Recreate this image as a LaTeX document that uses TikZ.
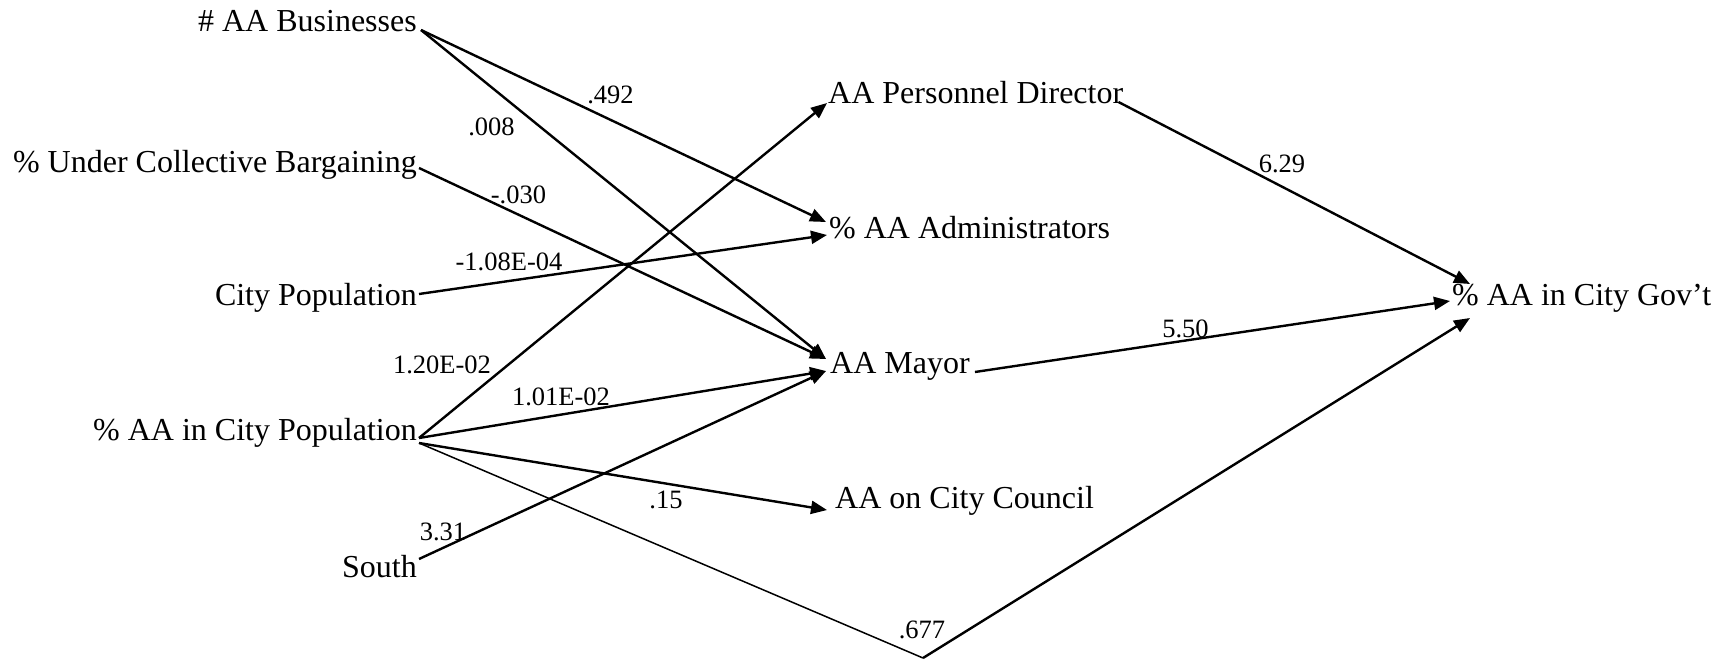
\documentclass[tikz,border=0pt]{standalone}
\usepackage{fontspec}
\setmainfont{Liberation Serif}
\usetikzlibrary{arrows.meta,calc}
\begin{document}
\begin{tikzpicture}[x=1pt,y=-1pt,
  var/.style={inner sep=0pt, font=\fontsize{32}{36}\selectfont},
  lab/.style={inner sep=0pt, anchor=base, font=\fontsize{26.5}{30}\selectfont},
  path/.style={line width=2.4pt, line join=miter, -{Triangle[length=16pt,width=13pt]}},
  thinpath/.style={line width=1.5pt}]
\useasboundingbox (0,0) rectangle (1728,661);

% exogenous variables
\node[var, anchor=base east] (bus)   at (417,32)  {\# AA Businesses};
\node[var, anchor=base east] (cb)    at (417,172) {\% Under Collective Bargaining};
\node[var, anchor=base east] (pop)   at (417,305) {City Population};
\node[var, anchor=base east] (aap)   at (417,440) {\% AA in City Population};
\node[var, anchor=base east] (south) at (417,577) {South};
% intermediate variables
\node[var, anchor=base west] (pd)  at (828,103) {AA Personnel Director};
\node[var, anchor=base west] (adm) at (829,238) {\% AA Administrators};
\node[var, anchor=base west] (may) at (830,373) {AA Mayor};
\node[var, anchor=base west] (cc)  at (835,508) {AA on City Council};
% outcome
\node[var, anchor=base west] (gov) at (1452,305) {\% AA in City Gov’t};

% ports
\coordinate (busO)   at ($(bus.base east)+(4,-2)$);
\coordinate (cbO)    at ($(cb.base east)+(2,-4)$);
\coordinate (popO)   at ($(pop.base east)+(2,-11)$);
\coordinate (aapO1)  at ($(aap.base east)+(2,-2)$);
\coordinate (aapO2)  at ($(aap.base east)+(2,3)$);
\coordinate (southO) at ($(south.base east)+(2,-18)$);
\coordinate (pdI)    at ($(pd.base west)+(-1,0)$);
\coordinate (pdO)    at ($(pd.base east)+(-5,-1)$);
\coordinate (admI1)  at ($(adm.base west)+(-3,-16)$);
\coordinate (admI2)  at ($(adm.base west)+(-2,-3)$);
\coordinate (mayI1)  at ($(may.base west)+(-4,-14)$);
\coordinate (mayI2)  at ($(may.base west)+(-4,-2)$);
\coordinate (mayO)   at ($(may.base east)+(5,-1)$);
\coordinate (ccI)    at ($(cc.base west)+(-8,2)$);
\coordinate (govI1)  at ($(gov.base west)+(18,-21)$);
\coordinate (govI2)  at ($(gov.base west)+(-2,-4)$);
\coordinate (govI3)  at ($(gov.base west)+(18,13)$);
\coordinate (kink)   at (923,658);

% connectors
\draw[path] (busO) -- (admI1);
\draw[path] (busO) -- (mayI1);
\draw[path] (cbO) -- (mayI1);
\draw[path] (popO) -- (admI2);
\draw[path] (aapO1) -- (pdI);
\draw[path] (aapO1) -- (mayI2);
\draw[path] (southO) -- (mayI2);
\draw[path] (aapO2) -- (ccI);
\draw[thinpath] (aapO2) -- (kink);
\draw[path] (kink) -- (govI3);
\draw[path] (pdO) -- (govI1);
\draw[path] (mayO) -- (govI2);

% coefficient labels
\node[lab] (l1)  at (610.5,103) {.492};
\node[lab] (l2)  at (491.5,135) {.008};
\node[lab] (l3)  at (518.5,203) {-.030};
\node[lab] (l4)  at (509,270)   {-1.08E-04};
\node[lab] (l5)  at (442,373)   {1.20E-02};
\node[lab] (l6)  at (561,405)   {1.01E-02};
\node[lab] (l7)  at (443,540)   {3.31};
\node[lab] (l8)  at (666,508)   {.15};
\node[lab] (l9)  at (922,638)   {.677};
\node[lab] (l10) at (1282,172)  {6.29};
\node[lab] (l11) at (1185.5,337) {5.50};
\end{tikzpicture}
\end{document}
